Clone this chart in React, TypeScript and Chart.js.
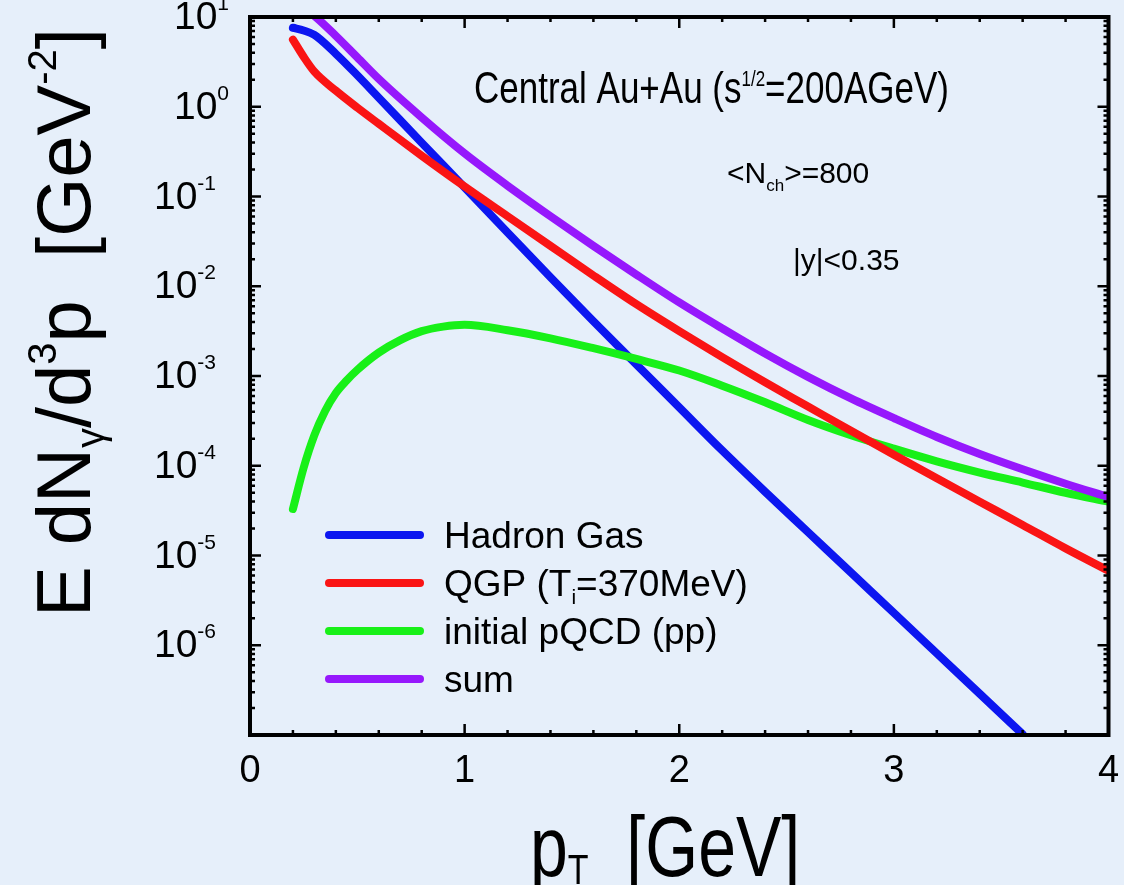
import React, { useEffect, useRef } from "react";
import { Chart, registerables } from "chart.js";
Chart.register(...registerables);

// ---------- data ----------
const pT = [0.2, 0.25, 0.3, 0.4, 0.5, 0.6, 0.8, 1.0, 1.2, 1.4, 1.6, 1.8, 2.0, 2.2, 2.4, 2.6, 2.8, 3.0, 3.2, 3.4, 3.6, 3.8, 4.0];

const hadronGas = [7.59, 7.08, 6.31, 3.89, 2.24, 1.26, 0.398, 0.126, 0.0398, 0.0126, 0.00407, 0.00135, 4.47e-4, 1.48e-4, 5.13e-5, 1.82e-5, 6.46e-6, 2.29e-6, 8.13e-7, 2.88e-7, 1.02e-7];

const qgp = [5.6, 3.6, 2.46, 1.51, 0.977, 0.646, 0.285, 0.129, 0.0603, 0.0282, 0.0132, 0.00631, 0.00316, 0.00162, 8.51e-4, 4.57e-4, 2.45e-4, 1.33e-4, 7.24e-5, 3.98e-5, 2.19e-5, 1.2e-5, 6.76e-6];

const pTpqcd = [0.2, 0.25, 0.3, 0.35, 0.4, 0.45, 0.5, 0.6, 0.7, 0.8, 0.9, 1.0, 1.2, 1.4, 1.6, 1.8, 2.0, 2.2, 2.4, 2.6, 2.8, 3.0, 3.2, 3.4, 3.6, 3.8, 4.0];
const pqcd = [3.3e-5, 9.5e-5, 2.19e-4, 4.07e-4, 6.46e-4, 8.9e-4, 1.17e-3, 1.82e-3, 2.51e-3, 3.16e-3, 3.55e-3, 3.72e-3, 3.24e-3, 2.63e-3, 2.04e-3, 1.55e-3, 1.15e-3, 7.8e-4, 5.1e-4, 3.24e-4, 2.19e-4, 1.55e-4, 1.12e-4, 8.4e-5, 6.5e-5, 5.0e-5, 3.98e-5];

const sum = [14.5, 12.6, 10.3, 6.17, 3.55, 2.04, 0.759, 0.302, 0.132, 0.0603, 0.0282, 0.0135, 0.0066, 0.00339, 0.00178, 9.77e-4, 5.62e-4, 3.39e-4, 2.09e-4, 1.35e-4, 9.12e-5, 6.31e-5, 4.47e-5];

const xTickLabels = [0, 1, 2, 3, 4];
const yTickExponents = [1, 0, -1, -2, -3, -4, -5, -6];

const seriesLabels = ["Hadron Gas", "QGP (T_i=370MeV)", "initial pQCD (pp)", "sum"];

// ---------- styles ----------
const BG = "rgb(230,239,250)";
const BLUE = "rgb(12,22,240)";
const RED = "rgb(250,20,20)";
const GREEN = "rgb(24,240,24)";
const PURPLE = "rgb(150,24,252)";
const FONT = '"Liberation Sans", Arial, Helvetica, sans-serif';

type Seg = [string, number, number]; // text, size, dy

function segWidth(ctx: CanvasRenderingContext2D, segs: Seg[]) {
  let w = 0;
  for (const [t, s] of segs) {
    ctx.font = `${s}px ${FONT}`;
    w += ctx.measureText(t).width;
  }
  return w;
}

function rich(ctx: CanvasRenderingContext2D, segs: Seg[], x: number, y: number, sx = 1, sy = 1) {
  ctx.save();
  ctx.translate(x, y);
  ctx.scale(sx, sy);
  ctx.textAlign = "left";
  ctx.textBaseline = "alphabetic";
  ctx.fillStyle = "#000";
  let cx = 0;
  for (const [t, s, dy] of segs) {
    ctx.font = `${s}px ${FONT}`;
    ctx.fillText(t, cx, dy / sy);
    cx += ctx.measureText(t).width;
  }
  ctx.restore();
}

const decor = {
  id: "decor",
  beforeDraw(chart: any) {
    const ctx = chart.ctx as CanvasRenderingContext2D;
    ctx.save();
    ctx.fillStyle = BG;
    ctx.fillRect(0, 0, chart.width, chart.height);
    ctx.restore();
  },
  afterDatasetsDraw(chart: any) {
    const ctx = chart.ctx as CanvasRenderingContext2D;
    const { left, right, top, bottom } = chart.chartArea;
    const xs = chart.scales.x;
    const ys = chart.scales.y;
    ctx.save();
    ctx.strokeStyle = "#000";
    ctx.lineCap = "butt";

    // ticks
    ctx.lineWidth = 2.5;
    const MAJ = 11, MIN = 5;
    for (let k = 0; k <= 20; k++) {
      const v = k * 0.2;
      const px = xs.getPixelForValue(v);
      const L = k % 5 === 0 ? MAJ : MIN;
      ctx.beginPath();
      ctx.moveTo(px, bottom); ctx.lineTo(px, bottom - L);
      ctx.moveTo(px, top); ctx.lineTo(px, top + L);
      ctx.stroke();
    }
    for (let e = -7; e <= 1; e++) {
      for (let m = 1; m <= 9; m++) {
        const v = m * Math.pow(10, e);
        if (v < 1e-7 * 0.999 || v > 10 * 1.001) continue;
        const py = ys.getPixelForValue(v);
        const L = m === 1 ? MAJ : MIN;
        ctx.beginPath();
        ctx.moveTo(left, py); ctx.lineTo(left + L, py);
        ctx.moveTo(right, py); ctx.lineTo(right - L, py);
        ctx.stroke();
      }
    }

    // frame
    ctx.lineWidth = 4;
    ctx.lineJoin = "miter";
    ctx.strokeRect(left, top, right - left, bottom - top);

    // x tick labels
    ctx.fillStyle = "#000";
    ctx.textAlign = "center";
    ctx.textBaseline = "alphabetic";
    ctx.font = `38px ${FONT}`;
    for (const v of xTickLabels) {
      ctx.fillText(String(v), xs.getPixelForValue(v), 782);
    }

    // y tick labels: 10^e
    for (const e of yTickExponents) {
      const py = ys.getPixelForValue(Math.pow(10, e));
      const segs: Seg[] = [["10", 39, 0], [String(e), 21, -19]];
      const w = segWidth(ctx, segs);
      const rightEdge = e >= 0 ? 229 : 216;
      rich(ctx, segs, rightEdge - w, py + 12);
    }

    // axis titles
    rich(ctx, [["p", 68, 0], ["T", 34, 8], ["  [GeV]", 68, 0]], 530, 876, 1, 1.25);

    ctx.save();
    ctx.translate(90, 617);
    ctx.rotate(-Math.PI / 2);
    rich(ctx, [["E dN", 76, 0], ["γ", 40, 14], ["/d", 76, 0], ["3", 40, -34], ["p  [GeV", 76, 0], ["-2", 40, -34], ["]", 76, 0]], 0, 0);
    ctx.restore();

    // annotations
    rich(ctx, [["Central Au+Au (s", 35, 0], ["1/2", 17, -17], ["=200AGeV)", 35, 0]], 474, 103, 1, 1.28);
    rich(ctx, [["<N", 30, 0], ["ch", 17, 8], [">=800", 30, 0]], 727, 183);
    rich(ctx, [["|y|<0.35", 30, 0]], 793, 270);

    // legend
    const colors = [BLUE, RED, GREEN, PURPLE];
    const rows = [535, 583, 631, 679];
    for (let i = 0; i < 4; i++) {
      ctx.strokeStyle = colors[i];
      ctx.lineWidth = 8;
      ctx.lineCap = "round";
      ctx.beginPath();
      ctx.moveTo(329, rows[i]);
      ctx.lineTo(420, rows[i]);
      ctx.stroke();
      const label = seriesLabels[i];
      let segs: Seg[];
      if (label.includes("_i")) {
        const [a, b] = label.split("_i");
        segs = [[a, 37, 0], ["i", 21, 8], [b, 37, 0]];
      } else {
        segs = [[label, 37, 0]];
      }
      rich(ctx, segs, 444, rows[i] + 13);
    }
    ctx.restore();
  },
};

export default function App() {
  const ref = useRef<HTMLCanvasElement>(null);
  useEffect(() => {
    const canvas = ref.current!;
    const series = [
      { label: seriesLabels[0], xs: pT, values: hadronGas, color: BLUE, order: 3 },
      { label: seriesLabels[1], xs: pT, values: qgp, color: RED, order: 1 },
      { label: seriesLabels[2], xs: pTpqcd, values: pqcd, color: GREEN, order: 2 },
      { label: seriesLabels[3], xs: pT, values: sum, color: PURPLE, order: 0 },
    ];
    const chart = new Chart(canvas, {
      type: "line",
      data: {
        datasets: series.map((s) => ({
          label: s.label,
          data: s.values.map((v, i) => ({ x: s.xs[i], y: v })),
          borderColor: s.color,
          backgroundColor: s.color,
          borderWidth: 8,
          pointRadius: 0,
          cubicInterpolationMode: "monotone",
          borderCapStyle: "round",
          borderJoinStyle: "round",
          fill: false,
          clip: 0,
          order: s.order,
        })),
      } as any,
      options: {
        responsive: false,
        animation: false,
        devicePixelRatio: 1,
        events: [],
        layout: { padding: { left: 250, top: 17, right: 15.5, bottom: 150 } },
        scales: {
          x: { type: "linear", min: 0, max: 4, display: false },
          y: { type: "logarithmic", min: 1e-7, max: 10, display: false },
        },
        plugins: { legend: { display: false }, tooltip: { enabled: false } },
      } as any,
      plugins: [decor],
    });
    return () => chart.destroy();
  }, []);
  return (
    <div style={{ position: "fixed", left: 0, top: 0, width: 1124, height: 885, background: BG }}>
      <canvas ref={ref} width={1124} height={885} style={{ display: "block" }} />
    </div>
  );
}
